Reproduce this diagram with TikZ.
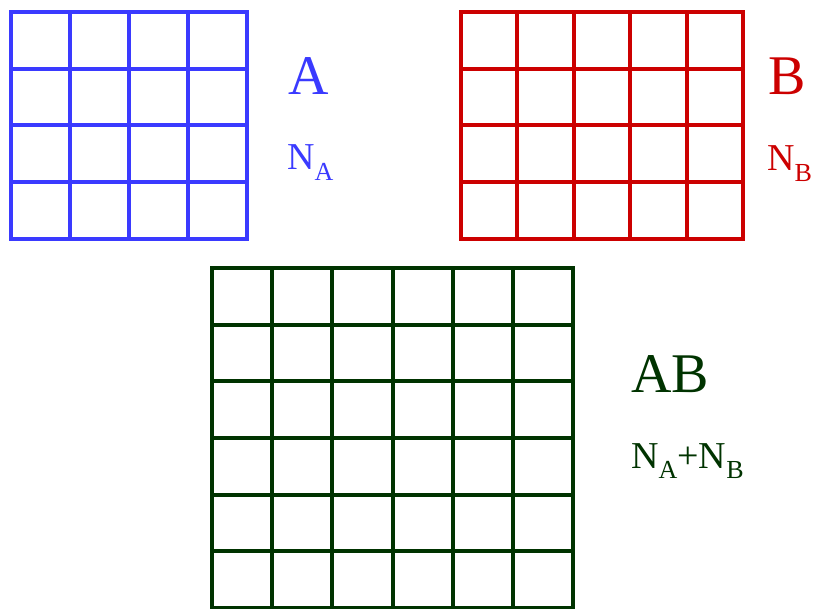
\documentclass[tikz,border=0pt]{standalone}
\usepackage{fontspec}
\setmainfont{Liberation Serif}
\definecolor{gridblue}{RGB}{58,58,255}
\definecolor{gridred}{RGB}{204,0,0}
\definecolor{gridgreen}{RGB}{0,51,0}
\newcommand{\lowsub}[1]{\raisebox{-0.27em}{\fontsize{26}{26}\selectfont #1}}

\begin{document}
\begin{tikzpicture}[x=1pt,y=-1pt,
  gridline/.style={line width=4pt,line cap=rect},
  bigname/.style={anchor=base west,inner sep=0pt,font=\fontsize{56}{56}\selectfont},
  sizename/.style={anchor=base west,inner sep=0pt,font=\fontsize{38}{38}\selectfont}]
 \useasboundingbox(0,0)rectangle(818,609);
 % system A: 4 x 4 cells
 \foreach \i in {0,...,4}{
  \draw[gridline,gridblue]({11+\i*59},12)--++(0,227);
  \draw[gridline,gridblue](11,{12+\i*56.75})--++(236,0);
 }
 % system B: 5 x 4 cells
 \foreach \i in {0,...,5}
  \draw[gridline,gridred]({461+\i*56.4},12)--++(0,227);
 \foreach \j in {0,...,4}
  \draw[gridline,gridred](461,{12+\j*56.75})--++(282,0);
 % combined system AB: 6 x 6 cells, bottom edge on the border
 \foreach \i in {0,...,6}{
  \draw[gridline,gridgreen]({212+\i*60.17},268)--++(0,340);
  \draw[gridline,gridgreen](212,{268+\i*56.67})--++(361,0);
 }
 \node[bigname,text=gridblue](nameA)at(288,95){A};
 \node[sizename,text=gridblue](sizeA)at(287,170){N\lowsub{A}};
 \node[bigname,text=gridred](nameB)at(768,95){B};
 \node[sizename,text=gridred](sizeB)at(767,171){N\lowsub{B}};
 \node[bigname,text=gridgreen](nameAB)at(631,392){AB};
 \node[sizename,text=gridgreen](sizeAB)at(631,468){N\lowsub{A}+N\lowsub{B}};
\end{tikzpicture}
\end{document}
